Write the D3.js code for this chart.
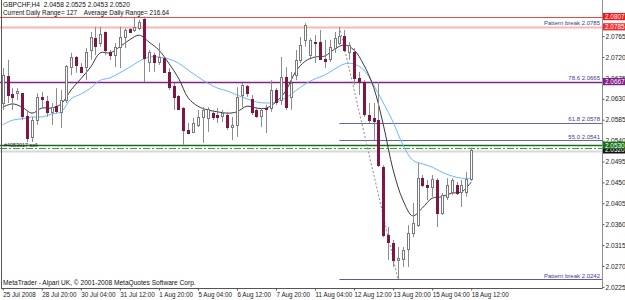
<!DOCTYPE html>
<html>
<head>
<meta charset="utf-8">
<script src="https://cdn.jsdelivr.net/npm/d3@7"></script>
<style>
  body { margin: 0; background: #fff; }
  svg { display: block; }
  text { font-family: "Liberation Sans", Arial, sans-serif; white-space: pre; }
</style>
</head>
<body>
<svg id="svg1" width="625" height="300"></svg>
<script>
// header texts
var symbolTitle = "GBPCHF,H4  2.0458 2.0525 2.0453 2.0520";
var rangeTitle = "Current Daily Range= 127    Average Daily Range= 216.64";
var copyrightText = "MetaTrader - Alpari UK, \u00a9 2001-2008 MetaQuotes Software Corp.";
var orderText = "#4053017 sell";

// H4 candles, one value per bar (bar 0 = 25 Jul 2008)
var opens = [2.0621,2.0679,2.0640,2.0642,2.0642,2.0593,2.0548,2.0584,2.0634,2.0625,
             2.0602,2.0614,2.0602,2.0627,2.0698,2.0720,2.0698,2.0698,2.0735,2.0761,
             2.0750,2.0774,2.0731,2.0724,2.0742,2.0763,2.0780,2.0778,2.0782,2.0802,
             2.0709,2.0724,2.0709,2.0718,2.0688,2.0658,2.0636,2.0610,2.0563,2.0559,
             2.0574,2.0591,2.0589,2.0599,2.0595,2.0593,2.0595,2.0569,2.0574,2.0638,
             2.0658,2.0630,2.0606,2.0593,2.0610,2.0610,2.0649,2.0627,2.0677,2.0634,
             2.0681,2.0714,2.0757,2.0724,2.0752,2.0752,2.0716,2.0716,2.0739,2.0750,
             2.0765,2.0731,2.0731,2.0675,2.0666,2.0595,2.0589,2.0584,2.0483,2.0337,
             2.0320,2.0283,2.0285,2.0307,2.0341,2.0358,2.0459,2.0444,2.0440,2.0455,
             2.0384,2.0419,2.0429,2.0444,2.0429,2.0429,2.0458];
var highs = [2.0696,2.0714,2.0653,2.0653,2.0643,2.0606,2.0591,2.0642,2.0645,2.0636,
             2.0621,2.0653,2.0649,2.0703,2.0729,2.0722,2.0707,2.0739,2.0774,2.0785,
             2.0785,2.0775,2.0735,2.0750,2.0785,2.0782,2.0782,2.0804,2.0800,2.0807,
             2.0735,2.0729,2.0750,2.0720,2.0696,2.0664,2.0638,2.0612,2.0578,2.0589,
             2.0606,2.0612,2.0612,2.0606,2.0610,2.0606,2.0602,2.0591,2.0655,2.0664,
             2.0660,2.0638,2.0612,2.0610,2.0617,2.0670,2.0653,2.0720,2.0698,2.0688,
             2.0735,2.0763,2.0793,2.0761,2.0767,2.0778,2.0757,2.0757,2.0774,2.0782,
             2.0778,2.0752,2.0739,2.0688,2.0670,2.0621,2.0621,2.0666,2.0487,2.0354,
             2.0326,2.0311,2.0311,2.0358,2.0406,2.0492,2.0466,2.0455,2.0466,2.0459,
             2.0427,2.0459,2.0459,2.0451,2.0455,2.0472,2.0525];
var lows = [2.0606,2.0621,2.0606,2.0627,2.0584,2.0537,2.0537,2.0574,2.0612,2.0591,
            2.0574,2.0599,2.0567,2.0621,2.0681,2.0686,2.0686,2.0670,2.0714,2.0724,
            2.0742,2.0724,2.0714,2.0698,2.0696,2.0739,2.0772,2.0774,2.0778,2.0666,
            2.0688,2.0688,2.0703,2.0686,2.0649,2.0606,2.0606,2.0531,2.0554,2.0556,
            2.0569,2.0535,2.0559,2.0584,2.0578,2.0580,2.0563,2.0541,2.0548,2.0612,
            2.0634,2.0595,2.0589,2.0569,2.0556,2.0602,2.0617,2.0617,2.0606,2.0606,
            2.0670,2.0707,2.0742,2.0718,2.0707,2.0714,2.0696,2.0709,2.0729,2.0746,
            2.0731,2.0714,2.0660,2.0638,2.0591,2.0578,2.0541,2.0483,2.0332,2.0283,
            2.0268,2.0242,2.0268,2.0268,2.0332,2.0354,2.0440,2.0412,2.0419,2.0354,
            2.0380,2.0412,2.0423,2.0423,2.0397,2.0419,2.0453];
var closes = [2.0681,2.0638,2.0634,2.0647,2.0593,2.0546,2.0584,2.0634,2.0630,2.0602,
              2.0612,2.0604,2.0627,2.0701,2.0720,2.0703,2.0688,2.0731,2.0763,2.0744,
              2.0770,2.0735,2.0724,2.0742,2.0763,2.0778,2.0774,2.0785,2.0795,2.0718,
              2.0731,2.0709,2.0720,2.0688,2.0655,2.0634,2.0608,2.0563,2.0556,2.0578,
              2.0591,2.0606,2.0608,2.0591,2.0591,2.0599,2.0569,2.0574,2.0634,2.0660,
              2.0642,2.0602,2.0593,2.0606,2.0608,2.0649,2.0623,2.0677,2.0612,2.0664,
              2.0714,2.0746,2.0789,2.0757,2.0750,2.0716,2.0711,2.0742,2.0761,2.0765,
              2.0735,2.0746,2.0675,2.0666,2.0597,2.0584,2.0582,2.0487,2.0337,2.0322,
              2.0283,2.0287,2.0304,2.0341,2.0363,2.0459,2.0444,2.0440,2.0457,2.0384,
              2.0423,2.0444,2.0455,2.0427,2.0444,2.0457,2.0520];

// moving averages read every second bar
var maStep = 2;
var maFast = [2.0612,2.0619,2.0612,2.0599,2.0610,2.0610,2.0619,2.0649,2.0673,2.0698,
              2.0729,2.0729,2.0742,2.0757,2.0767,2.0752,2.0735,2.0707,2.0675,2.0632,
              2.0614,2.0606,2.0602,2.0599,2.0602,2.0614,2.0610,2.0610,2.0623,2.0647,
              2.0688,2.0711,2.0720,2.0722,2.0737,2.0746,2.0735,2.0703,2.0655,2.0574,
              2.0477,2.0412,2.0378,2.0395,2.0416,2.0419,2.0427,2.0429,2.0451];
var maSlow = [2.0574,2.0584,2.0587,2.0591,2.0591,2.0597,2.0602,2.0630,2.0640,2.0653,
              2.0670,2.0675,2.0686,2.0698,2.0711,2.0720,2.0720,2.0716,2.0707,2.0692,
              2.0677,2.0664,2.0653,2.0647,2.0638,2.0630,2.0623,2.0621,2.0623,2.0632,
              2.0647,2.0662,2.0673,2.0681,2.0694,2.0705,2.0705,2.0692,2.0660,2.0621,
              2.0580,2.0531,2.0498,2.0490,2.0483,2.0472,2.0464,2.0459,2.0459];

// axes
var dateLabels = ["25 Jul 2008","28 Jul 20:00","30 Jul 04:00","31 Jul 12:00","1 Aug 20:00",
                  "5 Aug 04:00","6 Aug 12:00","7 Aug 20:00","11 Aug 04:00","12 Aug 12:00",
                  "13 Aug 20:00","15 Aug 04:00","18 Aug 12:00"];
var dateBars = [0,8,16,24,32,40,48,56,64,72,80,88,96];
var priceTicks = [2.0765,2.0720,2.0675,2.0630,2.0585,2.0540,2.0495,2.0450,2.0405,2.0360,2.0315,2.0270,2.0225];

// horizontal objects
var rangeHigh = 2.0807;
var breakHigh = 2.0785;
var breakLow = 2.0242;
var fibPrices = [2.0665, 2.0578, 2.0541];
var fibNames = ["78.6", "61.8", "55.0"];
var fibLineLabel = 2.0667;
var orderPrice = 2.0530;
var bidPrice = 2.0520;
var askPrice = 2.0523;
var fibBars = [69, 81];   // trend line of the fibo tool

var W = 625, H = 300;
var plotRight = 602, plotBottom = 288;

var svg = d3.select("#svg1");

var x = d3.scaleLinear().domain([0, 96]).range([2.7, 471.2]);
var y = d3.scaleLinear().domain([2.0270, 2.0720]).range([266, 57]);

var crisp = function (v) { return Math.round(v) + 0.5; };

var hLine = function (price, x0, color, width, dash) {
    var l = svg.append("line")
        .attr("x1", x0).attr("x2", plotRight)
        .attr("y1", crisp(y(price))).attr("y2", crisp(y(price)))
        .attr("stroke", color).attr("stroke-width", width);
    if (dash) l.attr("stroke-dasharray", dash);
    return l;
};

var lineText = function (price, txt) {
    svg.append("text")
        .attr("x", plotRight - 2).attr("y", y(price) - 1.5)
        .attr("text-anchor", "end")
        .attr("font-size", "6px")
        .attr("fill", "#3b3b8c")
        .text(txt);
};

var priceBox = function (price, color) {
    var cy = y(price);
    svg.append("rect")
        .attr("x", plotRight + 1).attr("y", cy - 3.6)
        .attr("width", W - plotRight - 1).attr("height", 7.2)
        .attr("fill", color);
    svg.append("text")
        .attr("x", plotRight + 3).attr("y", cy + 2.3)
        .attr("font-size", "6.4px")
        .attr("fill", "#fff")
        .text(d3.format(".4f")(price));
};

// background
svg.append("rect").attr("width", W).attr("height", H).attr("fill", "#fff");

// horizontal levels (behind candles)
hLine(rangeHigh, 0, "#f04848", 1);
hLine(breakHigh, 0, "#ffb4b4", 2);
hLine(fibLineLabel, 0, "#84208a", 1.4);
hLine(fibPrices[1], x(fibBars[0]), "#6464b4", 1);
hLine(fibPrices[2], x(fibBars[0]), "#6464b4", 1);
hLine(breakLow, x(fibBars[0]), "#5a5aaa", 1);
hLine(bidPrice - 0.0002, 0, "#d8d8d8", 2);
hLine(askPrice, 0, "#3c9c3c", 1, "7,2,2,2");
hLine(orderPrice, 0, "#167016", 1.4);

// fibo trend line
svg.append("line")
    .attr("x1", x(fibBars[0])).attr("y1", y(breakHigh))
    .attr("x2", x(fibBars[1])).attr("y2", y(breakLow))
    .attr("stroke", "#8a8a8a").attr("stroke-width", 1)
    .attr("stroke-dasharray", "2,2");

// moving averages
var maLine = d3.line()
    .x(function (d, i) { return x(i * maStep); })
    .y(function (d) { return y(d); })
    .curve(d3.curveCatmullRom);

svg.append("path").attr("d", maLine(maSlow))
    .attr("fill", "none").attr("stroke", "#6cb6ff").attr("stroke-width", 1);
svg.append("path").attr("d", maLine(maFast))
    .attr("fill", "none").attr("stroke", "#3a3a3a").attr("stroke-width", 1);

// candles
var bars = d3.range(opens.length);
var g = svg.append("g");
g.selectAll(".wick").data(bars).enter().append("line")
    .attr("x1", function (i) { return crisp(x(i)); })
    .attr("x2", function (i) { return crisp(x(i)); })
    .attr("y1", function (i) { return y(highs[i]); })
    .attr("y2", function (i) { return y(lows[i]); })
    .attr("stroke", "#8c8c8c").attr("stroke-width", 1);

g.selectAll(".body").data(bars).enter().append("rect")
    .attr("x", function (i) { return Math.round(x(i)) - 0.5; })
    .attr("width", 2)
    .attr("y", function (i) { return Math.round(y(Math.max(opens[i], closes[i]))) + 0.5; })
    .attr("height", function (i) {
        return Math.max(1, Math.round(y(Math.min(opens[i], closes[i]))) - Math.round(y(Math.max(opens[i], closes[i]))));
    })
    .attr("fill", function (i) { return closes[i] >= opens[i] ? "#fff" : "#7e1646"; })
    .attr("stroke", function (i) { return closes[i] >= opens[i] ? "#7a7a7a" : "#7e1646"; })
    .attr("stroke-width", 1);

// level captions
lineText(breakHigh, "Pattern break " + d3.format(".4f")(breakHigh));
for (var k = 0; k < fibPrices.length; k++) {
    lineText(k === 0 ? fibLineLabel : fibPrices[k], fibNames[k] + " " + d3.format(".4f")(fibPrices[k]));
}
lineText(breakLow, "Pattern break " + d3.format(".4f")(breakLow));

svg.append("text")
    .attr("x", 4).attr("y", y(orderPrice) + 1.5)
    .attr("font-size", "5.4px").attr("fill", "#222")
    .text(orderText);

// frame
svg.append("line").attr("x1", 1.5).attr("x2", 1.5).attr("y1", 0).attr("y2", plotBottom)
    .attr("stroke", "#555").attr("stroke-width", 1);
svg.append("line").attr("x1", 1).attr("x2", plotRight).attr("y1", plotBottom + 0.5).attr("y2", plotBottom + 0.5)
    .attr("stroke", "#555").attr("stroke-width", 1);
svg.append("line").attr("x1", plotRight + 0.5).attr("x2", plotRight + 0.5).attr("y1", 0).attr("y2", plotBottom + 1)
    .attr("stroke", "#909090").attr("stroke-width", 1);

// price axis
var yAxis = d3.axisRight(y).tickValues(priceTicks).tickSize(2).tickPadding(1)
    .tickFormat(d3.format(".4f"));
var ya = svg.append("g").attr("transform", "translate(" + (plotRight + 0.5) + ",0)").call(yAxis);
ya.select(".domain").remove();
ya.selectAll("line").attr("stroke", "#555");
ya.selectAll("text").attr("font-size", "6.6px").attr("fill", "#222")
    .attr("font-family", "Liberation Sans, Arial, sans-serif");

// time axis
var xAxis = d3.axisBottom(x).tickValues(dateBars).tickSize(2).tickPadding(1)
    .tickFormat(function (d, i) { return dateLabels[i]; });
var xa = svg.append("g").attr("transform", "translate(0," + (plotBottom + 0.5) + ")").call(xAxis);
xa.select(".domain").remove();
xa.selectAll("line").attr("stroke", "#555");
xa.selectAll("text").attr("font-size", "6.3px").attr("fill", "#222")
    .attr("text-anchor", "start").attr("dy", "0.85em")
    .attr("font-family", "Liberation Sans, Arial, sans-serif");

// price boxes on the axis
priceBox(rangeHigh, "#f01818");
priceBox(breakHigh, "#f62a2a");
priceBox(fibLineLabel, "#7c1e86");
priceBox(bidPrice, "#111");
priceBox(orderPrice, "#137313");

// header and footer
svg.append("text").attr("x", 3).attr("y", 7).attr("font-size", "6.6px").attr("fill", "#111").text(symbolTitle);
svg.append("text").attr("x", 3).attr("y", 14.5).attr("font-size", "6.4px").attr("fill", "#111").text(rangeTitle);
svg.append("text").attr("x", 3).attr("y", 285).attr("font-size", "6.6px").attr("fill", "#111").text(copyrightText);
</script>
</body>
</html>
